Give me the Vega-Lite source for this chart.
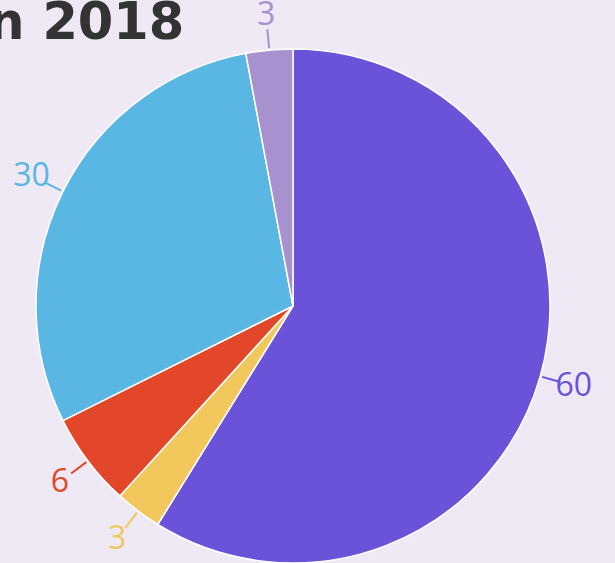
{
  "$schema": "https://vega.github.io/schema/vega-lite/v6.json",
  "width": 516,
  "height": 514,
  "autosize": {"type": "none"},
  "padding": {"left": 35, "top": 49, "right": 64, "bottom": 0},
  "background": "#efe9f5",
  "config": {"view": {"stroke": null}},
  "title": {
    "text": "n 2018",
    "anchor": "start",
    "dx": -25,
    "dy": 91,
    "offset": 0,
    "baseline": "alphabetic",
    "fontSize": 51,
    "font": "DejaVu Sans",
    "fontWeight": "bold",
    "color": "#333333"
  },
  "data": {
    "values": [
      {"category": "A", "value": 60, "order": 1},
      {"category": "B", "value": 3, "order": 2},
      {"category": "C", "value": 6, "order": 3},
      {"category": "D", "value": 30, "order": 4},
      {"category": "E", "value": 3, "order": 5}
    ]
  },
  "transform": [
    {"window": [{"op": "sum", "field": "value", "as": "end"}], "sort": [{"field": "order"}], "frame": [null, 0]},
    {"calculate": "datum.end - datum.value", "as": "start"},
    {"calculate": "(datum.start + datum.end) / 2", "as": "mid"}
  ],
  "encoding": {
    "color": {
      "field": "category",
      "type": "nominal",
      "scale": {"domain": ["A", "B", "C", "D", "E"], "range": ["#6a52d9", "#f2c75c", "#e2472a", "#5ab7e3", "#a792cf"]},
      "legend": null
    }
  },
  "layer": [
    {
      "mark": {"type": "arc", "stroke": "#ffffff", "strokeWidth": 1.5},
      "encoding": {
        "theta": {"field": "end", "type": "quantitative", "stack": null},
        "theta2": {"field": "start"}
      }
    },
    {
      "mark": {"type": "arc", "filled": false, "strokeWidth": 2},
      "encoding": {
        "theta": {"field": "mid", "type": "quantitative", "stack": null},
        "theta2": {"field": "mid"},
        "radius": {"value": 278},
        "radius2": {"value": 259}
      }
    },
    {
      "mark": {"type": "text", "fontSize": 32, "font": "Open Sans", "fontWeight": 500, "align": "center", "baseline": "middle"},
      "encoding": {
        "theta": {"field": "mid", "type": "quantitative", "stack": null},
        "radius": {"value": 292},
        "text": {"field": "value", "type": "quantitative"}
      }
    }
  ]
}
